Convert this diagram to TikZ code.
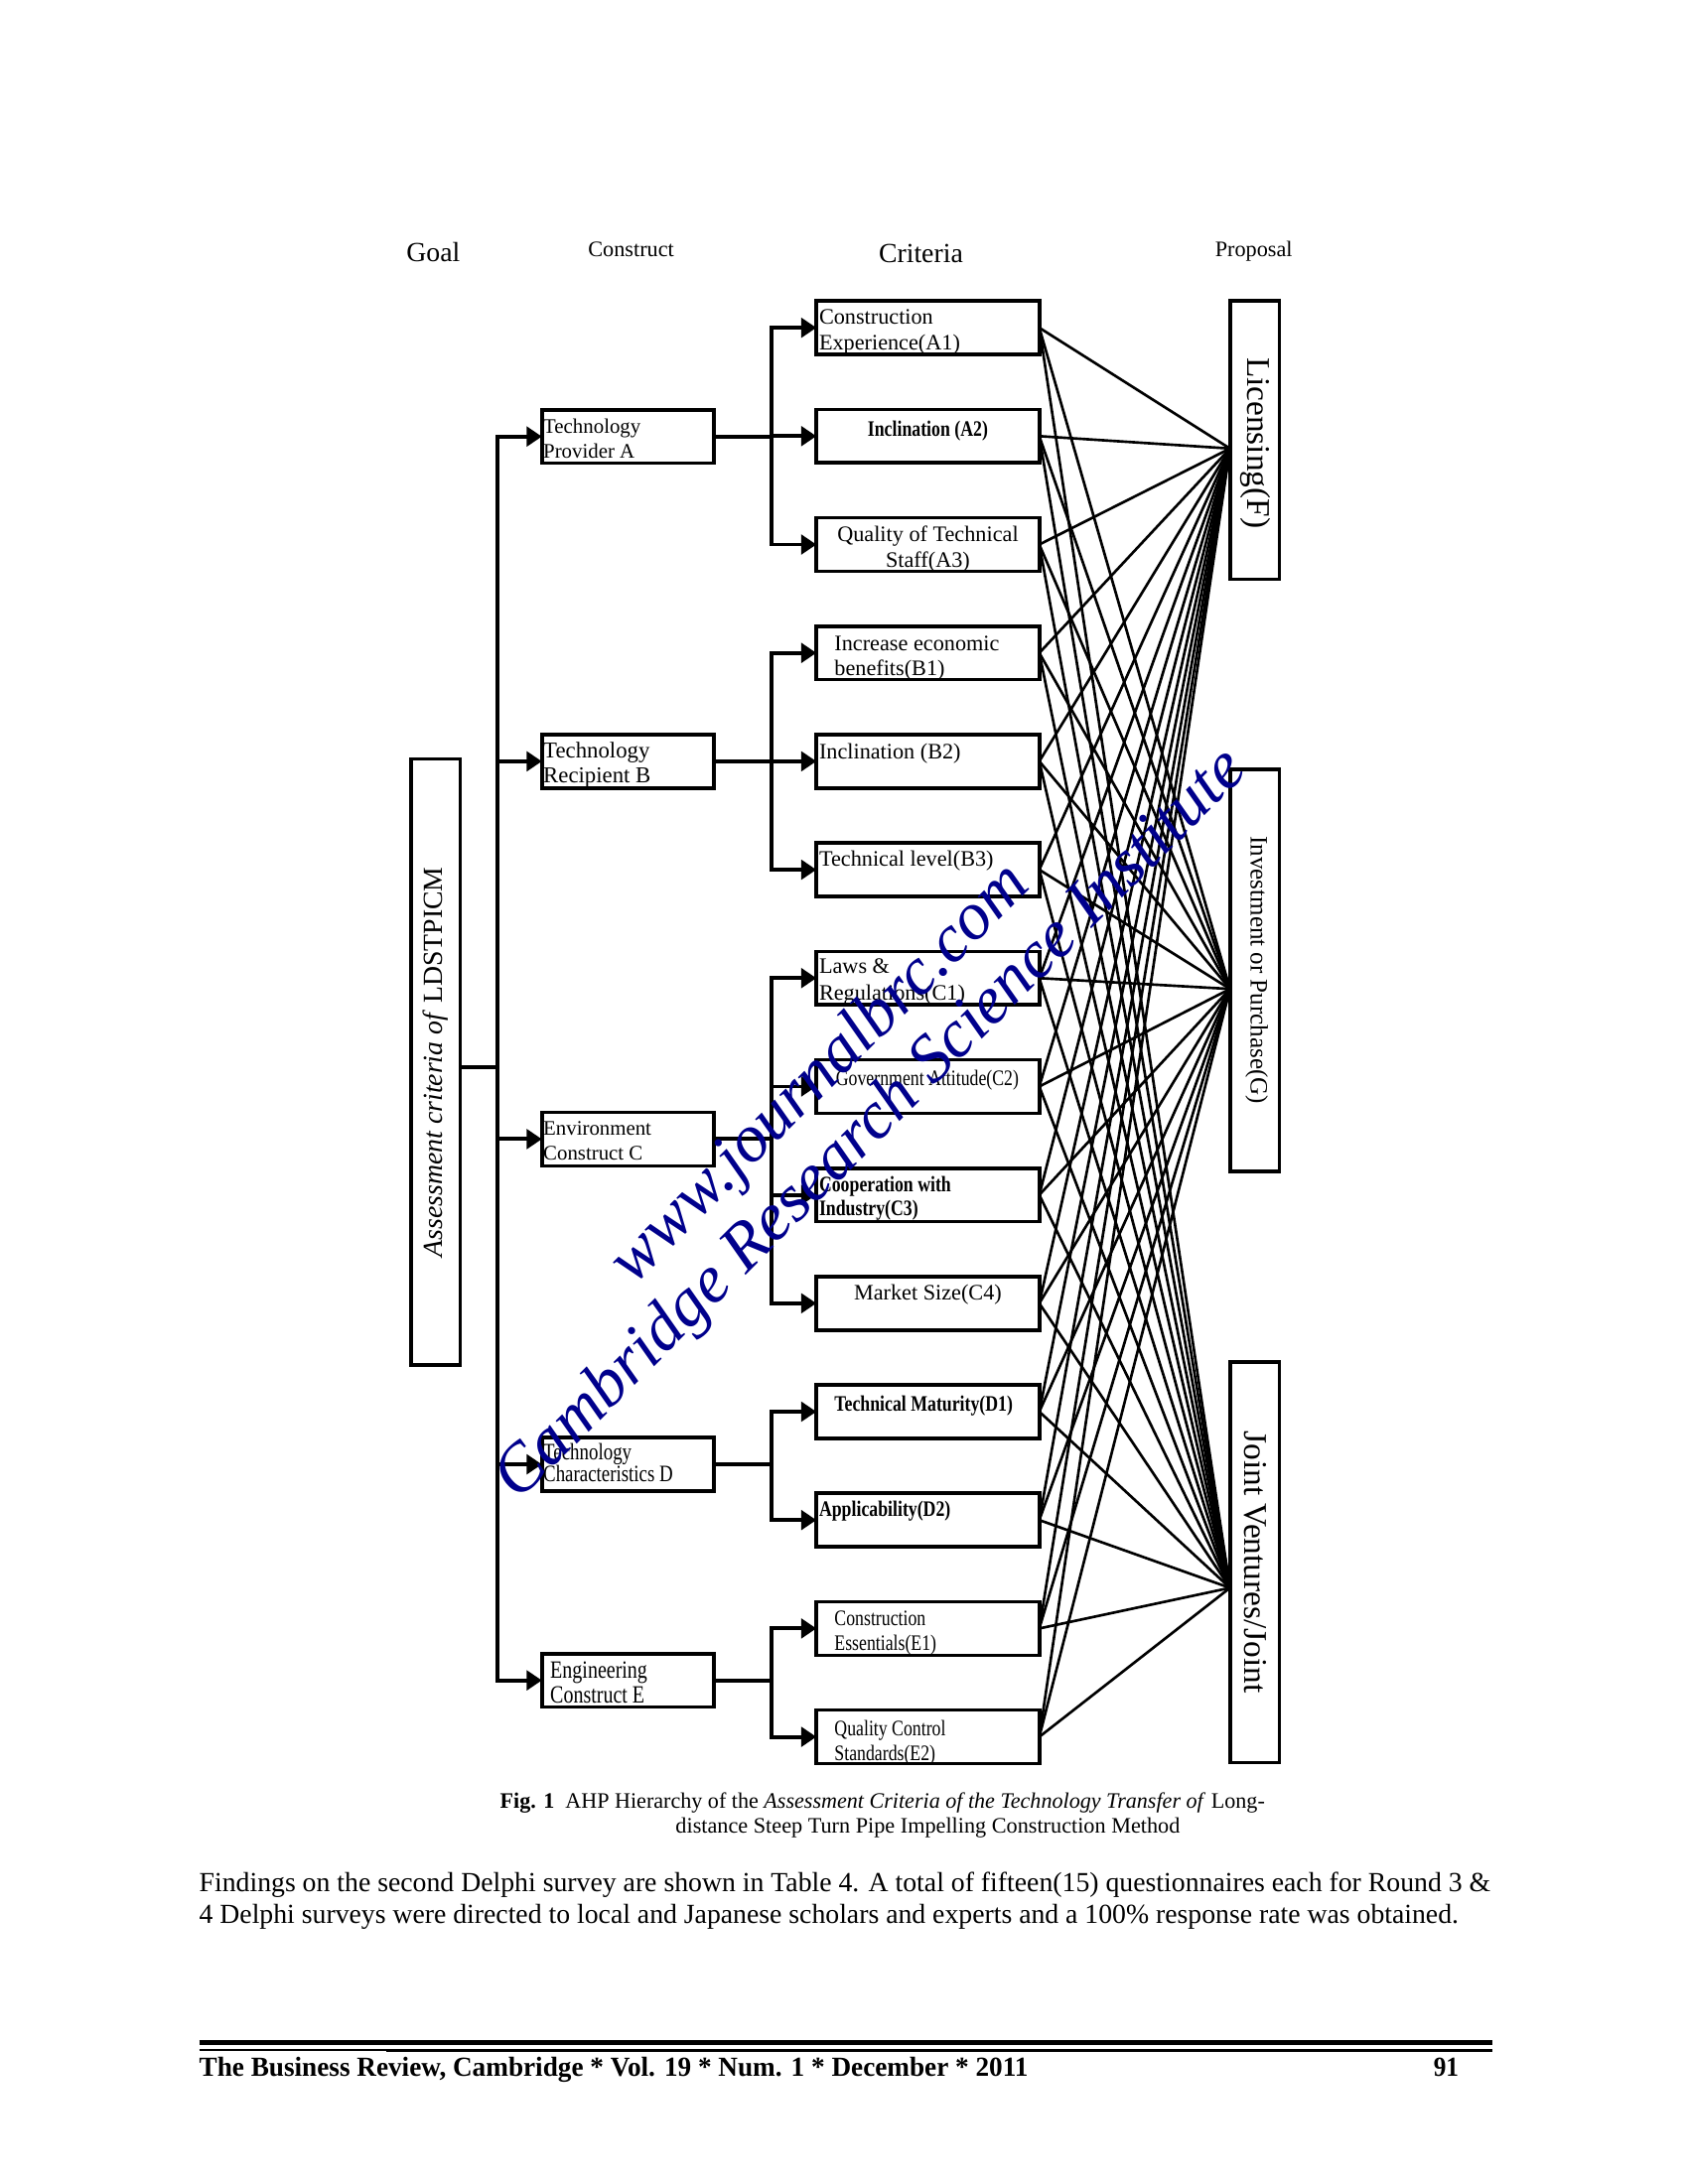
\documentclass[tikz,border=0pt]{standalone}
\usepackage{fontspec}
\usepackage{graphicx}
\setmainfont{Liberation Serif}
\newfontfamily\condf[FakeStretch=0.8]{Liberation Serif}
\usetikzlibrary{arrows.meta,calc}
\definecolor{wmblue}{RGB}{0,0,140}
\newcommand{\fsz}[2]{\fontsize{#1}{#2}\selectfont}
\begin{document}
\begin{tikzpicture}[x=0.505pt,y=-0.505pt,
  every node/.style={inner sep=0pt,outer sep=0pt},
  ln/.style={line width=1.4pt,line cap=rect},
  arr/.style={line width=1.4pt,-{Triangle[length=5.5pt,width=7pt]}},
  conn/.style={line width=0.95pt},
  cbox/.style={draw,line width=1.3pt,minimum width=80.8pt,minimum height=19.4pt},
  kbox/.style={draw,line width=1.3pt,minimum width=62.4pt,minimum height=19.4pt},
  pbox/.style={draw,line width=1.3pt,minimum width=17.9pt},
  lbl/.style={anchor=base west,align=left},
  clbl/.style={anchor=base,align=center},
  rm/.style={font=\fsz{8}{9.1}},
  cd/.style={font=\condf\fsz{8}{9.1}},
  cdb/.style={font=\condf\bfseries\fsz{8}{8.6}},
  hdr/.style={anchor=base},
  wm/.style={rotate=45,align=center,text=wmblue,font=\itshape\fsz{24.5}{26}}
]
\fill[white] (0,0) rectangle (1212,1568);
\useasboundingbox (0,0) rectangle (1212,1568);

% headers
\node[hdr,font=\fsz{10}{12}] (hGoal) at (311,187.5) {Goal};
\node[hdr,font=\fsz{8}{10}] (hCons) at (453,184) {Construct};
\node[hdr,font=\fsz{10}{12}] (hCrit) at (661,188.5) {Criteria};
\node[hdr,font=\fsz{8}{10}] (hProp) at (900,184) {Proposal};

% goal
\node[pbox,minimum height=219.7pt] (goal) at (312.7,762.5) {};
\node[rotate=90,font=\fsz{10}{12}] (goalt) at (312.5,762.5) {\textit{Assessment criteria of} LDSTPICM};

% proposals
\node[pbox,minimum height=101pt] (F) at (900.6,316) {};
\node[pbox,minimum height=145.7pt] (G) at (900.6,696.8) {};
\node[pbox,minimum height=145.2pt] (H) at (900.6,1121.7) {};
\node[rotate=-90,font=\fsz{12}{14}] (Ft) at (901,318) {Licensing(F)};
\node[rotate=-90,font=\fsz{9}{11}] (Gt) at (902,696.5) {Investment or Purchase(G)};
\node[rotate=-90,font=\fsz{12}{14}] (Ht) at (901,1121.5) {Joint Ventures/Joint};

% constructs
\node[kbox] (A) at (450.75,313.4) {};
\node[kbox] (B) at (450.75,546.6) {};
\node[kbox] (C) at (450.75,817.8) {};
\node[kbox] (D) at (450.75,1051.3) {};
\node[kbox] (E) at (450.75,1206.4) {};
\node[lbl,font=\fsz{7.5}{9.1}] (At) at (390,329) {Technology\\Provider A};
\node[lbl,font=\fsz{8.2}{9.1}] (Bt) at (390,562) {Technology\\Recipient B};
\node[lbl,font=\fsz{7.5}{9.1}] (Ct) at (390,833) {Environment\\Construct C};
\node[lbl,font=\condf\fsz{8.5}{8.1}] (Dt) at (390,1064) {Technology\\Characteristics D};
\node[lbl,font=\condf\fsz{9}{9.1}] (Et) at (395,1223) {Engineering\\Construct E};

% criteria
\foreach \n [count=\i from 0] in {A1,A2,A3,B1,B2,B3,C1,C2,C3,C4,D1,D2,E1,E2}{
  \node[cbox] (\n) at (666,{235.3+77.82*\i}) {};
}
\node[lbl,rm] (A1t) at (588,251) {Construction\\Experience(A1)};
\node[clbl,cdb] (A2t) at (666,313) {Inclination (A2)};
\node[clbl,rm] (A3t) at (666,407) {Quality of Technical\\Staff(A3)};
\node[lbl,rm] (B1t) at (599,485) {Increase economic\\benefits(B1)};
\node[lbl,rm] (B2t) at (588,545) {Inclination (B2)};
\node[lbl,rm] (B3t) at (588,622) {Technical level(B3)};
\node[lbl,font=\fsz{8}{9.6}] (C1t) at (588,718) {Laws \&\\Regulations(C1)};
\node[lbl,cd] (C2t) at (600,779) {Government Attitude(C2)};
\node[lbl,cdb] (C3t) at (588,873) {Cooperation with\\Industry(C3)};
\node[clbl,rm] (C4t) at (666,933) {Market Size(C4)};
\node[lbl,cdb] (D1t) at (599,1013) {Technical Maturity(D1)};
\node[lbl,cdb] (D2t) at (588,1089) {Applicability(D2)};
\node[lbl,cd] (E1t) at (599,1185) {Construction\\Essentials(E1)};
\node[lbl,cd] (E2t) at (599,1264) {Quality Control\\Standards(E2)};

% goal to constructs
\coordinate (b1) at (357,0);
\coordinate (b2) at (554,0);
\draw[ln] (goal.east |- 0,766) -- (b1 |- 0,766);
\draw[ln] (b1 |- A.west) -- (b1 |- E.west);
\foreach \k in {A,B,C,D,E}{\draw[arr] (b1 |- \k.west) -- (\k.west);}

% constructs to criteria
\draw[ln] (b2 |- A1.west) -- (b2 |- A3.west);
\draw[ln] (A.east) -- (b2 |- A.east);
\draw[ln] (b2 |- B1.west) -- (b2 |- B3.west);
\draw[ln] (B.east) -- (b2 |- B.east);
\draw[ln] (b2 |- C1.west) -- (b2 |- C4.west);
\draw[ln] (C.east) -- (b2 |- C.east);
\draw[ln] (b2 |- D1.west) -- (b2 |- D2.west);
\draw[ln] (D.east) -- (b2 |- D.east);
\draw[ln] (b2 |- E1.west) -- (b2 |- E2.west);
\draw[ln] (E.east) -- (b2 |- E.east);
\foreach \n in {A1,A2,A3,B1,B2,B3,C1,C2,C3,C4,D1,D2,E1,E2}{\draw[arr] (b2 |- \n.west) -- (\n.west);}

% criteria to proposals
\coordinate (Fp) at (F.west |- 0,322);
\coordinate (Gp) at (G.west |- 0,710);
\coordinate (Hp) at (H.west |- 0,1140);
\foreach \n in {A1,A2,A3,B1,B2,B3,C1,C2,C3,C4,D1,D2,E1,E2}{
  \foreach \p in {Fp,Gp,Hp}{\draw[conn] (\n.east) -- (\p);}
}

% watermark
\node[wm] (wmk) at (608,790) {www.journalbrc.com\\Cambridge Research Science Institute};

% caption
\node[anchor=base west] (cap1) at (359,1298) {\resizebox{277.2pt}{\height}{\fsz{8}{9}\textbf{Fig. 1}\ \ AHP Hierarchy of the \textit{Assessment Criteria of the Technology Transfer of} Long-}};
\node[anchor=base west] (cap2) at (485,1316) {\resizebox{182.8pt}{\height}{\fsz{8}{9}distance Steep Turn Pipe Impelling Construction Method}};

% paragraph
\node[anchor=base west] (p1) at (143,1358) {\resizebox{468.1pt}{\height}{\fsz{10}{12}Findings on the second Delphi survey are shown in Table 4. A total of fifteen(15) questionnaires each for Round 3 \&}};
\node[anchor=base west] (p2) at (143,1381) {\resizebox{456.5pt}{\height}{\fsz{10}{12}4 Delphi surveys were directed to local and Japanese scholars and experts and a 100\% response rate was obtained.}};

% footer
\draw[line width=1.8pt] (143,1466.5) -- (1071,1466.5);
\draw[line width=0.8pt] (143,1472) -- (277,1472);
\draw[line width=1.3pt] (277,1472) -- (1071,1472);
\node[anchor=base west] (foot) at (143,1491) {\resizebox{300.5pt}{\height}{\fsz{10}{12}\bfseries The Business Review, Cambridge * Vol. 19 * Num. 1 * December * 2011}};
\node[anchor=base west] (pg) at (1029,1491) {\resizebox{9.1pt}{\height}{\fsz{10}{12}\bfseries 91}};
\end{tikzpicture}
\end{document}
